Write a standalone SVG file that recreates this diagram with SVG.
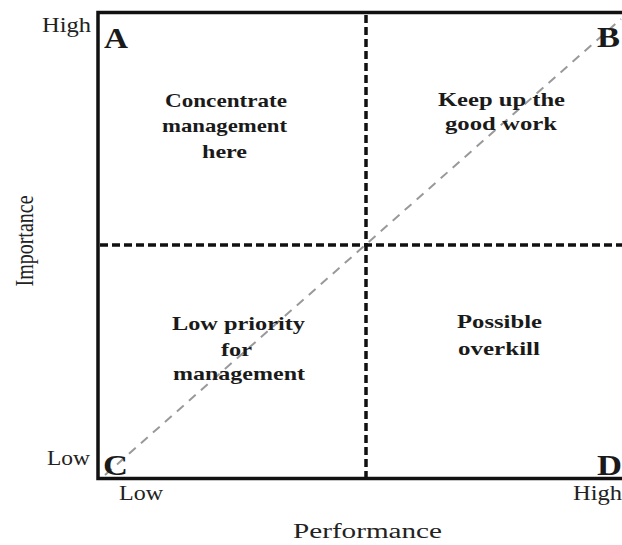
<svg xmlns="http://www.w3.org/2000/svg" width="622" height="545" viewBox="0 0 622 545">
<style>
.ax{font-family:"Liberation Serif","Times New Roman",serif;font-size:20px;fill:#222}
.lt{font-family:"Liberation Serif","Times New Roman",serif;font-size:30px;font-weight:bold;fill:#1a1a1a}
.q{font-family:"Liberation Serif","Times New Roman",serif;font-size:19.5px;font-weight:bold;fill:#1a1a1a}
.div{stroke:#111;stroke-width:3.5;stroke-dasharray:8 4;fill:none}
.diag{stroke:#999;stroke-width:2;stroke-dasharray:9 7;fill:none}
</style>
<rect width="622" height="545" fill="#fff"/>
<g id="frame">
<rect x="98" y="12.5" width="540" height="466" fill="none" stroke="#111" stroke-width="3.5"/>
</g>
<g id="connectors">
<line class="div" x1="366" y1="15" x2="366" y2="477"/>
<line class="div" x1="100" y1="245" x2="622" y2="245"/>
<line class="diag" x1="105" y1="475" x2="621" y2="19"/>
</g>
<g id="quadA">
<text class="lt" x="104" y="48" textLength="24" lengthAdjust="spacingAndGlyphs">A</text>
<text class="q" x="165" y="107" textLength="122" lengthAdjust="spacingAndGlyphs">Concentrate</text>
<text class="q" x="162" y="132" textLength="125" lengthAdjust="spacingAndGlyphs">management</text>
<text class="q" x="202" y="158" textLength="45" lengthAdjust="spacingAndGlyphs">here</text>
</g>
<g id="quadB">
<text class="lt" x="597" y="47" textLength="23" lengthAdjust="spacingAndGlyphs">B</text>
<text class="q" x="438" y="106" textLength="127" lengthAdjust="spacingAndGlyphs">Keep up the</text>
<text class="q" x="445" y="130" textLength="112" lengthAdjust="spacingAndGlyphs">good work</text>
</g>
<g id="quadC">
<text class="lt" x="103" y="475" textLength="25" lengthAdjust="spacingAndGlyphs">C</text>
<text class="q" x="172" y="330" textLength="133" lengthAdjust="spacingAndGlyphs">Low priority</text>
<text class="q" x="221" y="356" textLength="31" lengthAdjust="spacingAndGlyphs">for</text>
<text class="q" x="173" y="380" textLength="132" lengthAdjust="spacingAndGlyphs">management</text>
</g>
<g id="quadD">
<text class="lt" x="597" y="475" textLength="25" lengthAdjust="spacingAndGlyphs">D</text>
<text class="q" x="457" y="328" textLength="85" lengthAdjust="spacingAndGlyphs">Possible</text>
<text class="q" x="458" y="355" textLength="82" lengthAdjust="spacingAndGlyphs">overkill</text>
</g>
<g id="axes">
<text class="ax" x="42" y="32" textLength="49" lengthAdjust="spacingAndGlyphs">High</text>
<text class="ax" x="47" y="465" textLength="43" lengthAdjust="spacingAndGlyphs">Low</text>
<text class="ax" x="119" y="500" textLength="44" lengthAdjust="spacingAndGlyphs">Low</text>
<text class="ax" x="573" y="500" textLength="49" lengthAdjust="spacingAndGlyphs">High</text>
<text class="ax" x="293" y="538" textLength="149" lengthAdjust="spacingAndGlyphs">Performance</text>
<text class="ax" text-anchor="middle" transform="translate(33,241) scale(1.3,1) rotate(-90)">Importance</text>
</g>
</svg>
